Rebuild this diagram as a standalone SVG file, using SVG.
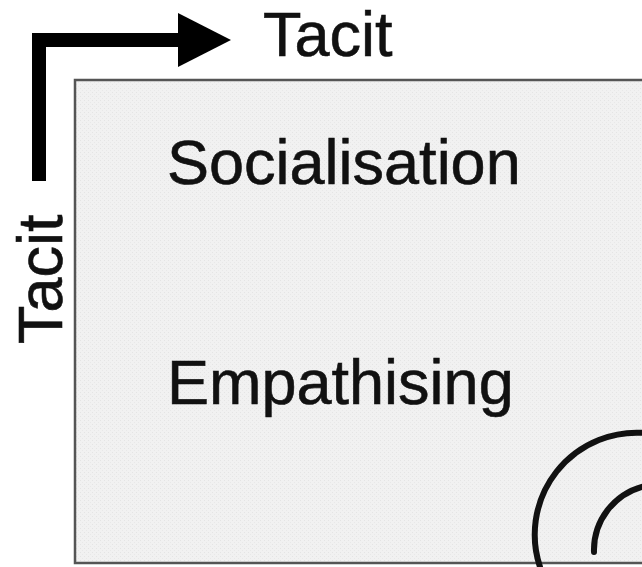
<svg xmlns="http://www.w3.org/2000/svg" width="642" height="567" viewBox="0 0 642 567">
<defs>
<pattern id="tex" width="4" height="4" patternUnits="userSpaceOnUse">
<rect width="4" height="4" fill="#f1f1f1"/>
<rect width="1" height="1" fill="#e4e4e4"/>
<rect x="2" y="2" width="1" height="1" fill="#e8e8e8"/>
</pattern>
</defs>
<style>
.lbl{font-family:"Liberation Sans",Arial,sans-serif;font-size:63px;fill:#111;stroke:#111;stroke-width:0.6}
.arc{fill:none;stroke:#111;stroke-width:6;stroke-linecap:round}
</style>
<rect width="642" height="567" fill="#fff"/>
<g id="quadrant">
<rect x="75" y="80" width="580" height="483" fill="url(#tex)" stroke="#555" stroke-width="2.5"/>
<text class="lbl" x="167" y="184">Socialisation</text>
<text class="lbl" x="167" y="404">Empathising</text>
</g>
<g id="connectors">
<path d="M39 181 V40 H180" fill="none" stroke="#000" stroke-width="14"/>
<polygon points="178,13 231,40 178,67" fill="#000"/>
<path class="arc" d="M540 567 A102 102 0 0 1 645 433"/>
<path class="arc" d="M594 552 A66 66 0 0 1 645 486"/>
</g>
<g id="axis-labels">
<text class="lbl" x="263" y="56">Tacit</text>
<text class="lbl" transform="translate(62,344) rotate(-90)">Tacit</text>
</g>
</svg>
